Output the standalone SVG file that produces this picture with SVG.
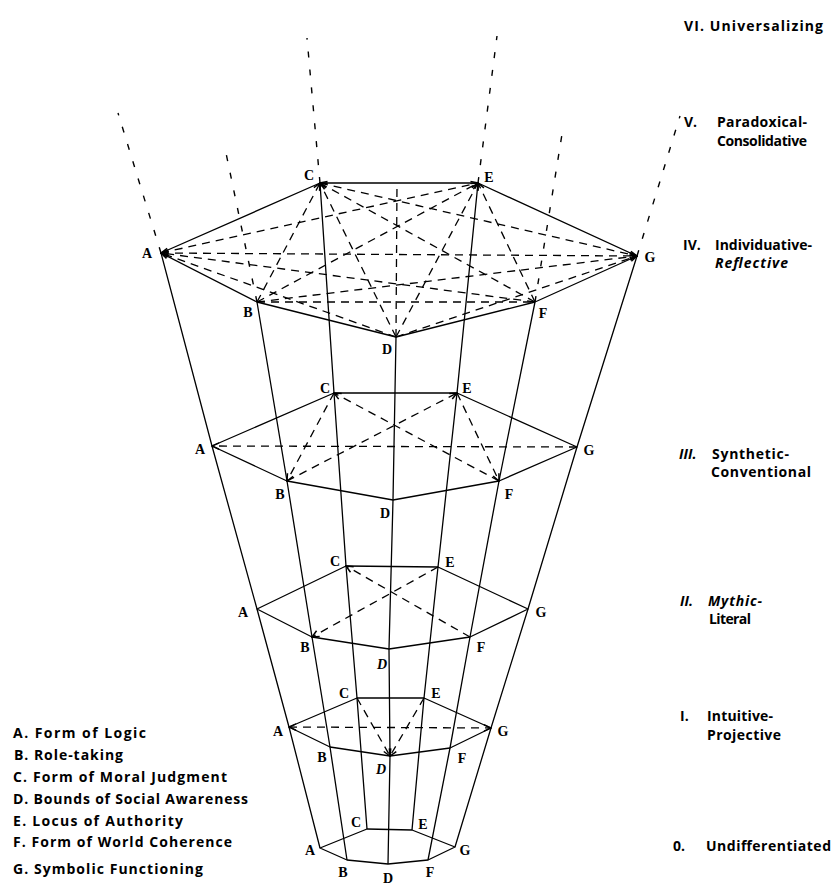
<svg xmlns="http://www.w3.org/2000/svg" width="834" height="885" viewBox="0 0 834 885">
<style>
.s{fill:none;stroke:#000;stroke-width:1.3;stroke-linejoin:round}
.d{fill:none;stroke:#000;stroke-width:1.3;stroke-dasharray:8 6}
.t{fill:none;stroke:#000;stroke-width:1.4;stroke-dasharray:6 12}
.v{font-family:"Liberation Serif","Times New Roman",serif;font-weight:bold;font-size:14px;text-anchor:middle;fill:#000}
.l{font-family:"Open Sans","Liberation Sans",sans-serif;font-weight:700;font-size:14px;fill:#000}
.i{font-style:italic}
</style>
<defs>
<marker id="arr" viewBox="-9 -5 10 10" refX="0" refY="0" markerWidth="10" markerHeight="10" markerUnits="userSpaceOnUse" orient="auto-start-reverse">
<path d="M-7,-3.2 L0,0 L-7,3.2" fill="none" stroke="#000" stroke-width="1.5"/>
</marker>
</defs>
<rect width="834" height="885" fill="#fff"/>

<g id="connectors">
<polyline class="s" points="320,848 289,727 257,609 212,446 161,253"/>
<polyline class="s" points="347,860 330,747 312,637 287,481 257,302"/>
<polyline class="s" points="367,829 357,698 346,566 334,393 320,183"/>
<polyline class="s" points="388,864 390,756 389,649 393,500 396,337"/>
<polyline class="s" points="412,830 424,698 438,567 457,393 478,183"/>
<polyline class="s" points="428,860 450,748 470,637 499,481 535,302"/>
<polyline class="s" points="455,847 491,728 528,609 577,447 637,256"/>
<polyline class="t" points="161,253 118,113"/>
<polyline class="t" points="257,302 226,153"/>
<polyline class="t" points="320,183 307,38"/>
<polyline class="d" points="396,337 397,183"/>
<polyline class="t" points="478,183 497,36"/>
<polyline class="t" points="535,302 563,128"/>
<polyline class="t" points="637,256 680,116"/>
<g marker-end="url(#arr)">
<line class="d" x1="396" y1="337" x2="161" y2="253"/>
<line class="d" x1="535" y1="302" x2="161" y2="253"/>
<line class="d" x1="257" y1="302" x2="320" y2="183"/>
<line class="d" x1="396" y1="337" x2="320" y2="183"/>
<line class="d" x1="535" y1="302" x2="320" y2="183"/>
<line class="d" x1="257" y1="302" x2="478" y2="183"/>
<line class="d" x1="396" y1="337" x2="478" y2="183"/>
<line class="d" x1="535" y1="302" x2="478" y2="183"/>
<line class="d" x1="257" y1="302" x2="637" y2="256"/>
<line class="d" x1="396" y1="337" x2="637" y2="256"/>
</g>
<g marker-start="url(#arr)" marker-end="url(#arr)">
<line class="d" x1="161" y1="253" x2="637" y2="256"/>
<line class="d" x1="161" y1="253" x2="478" y2="183"/>
<line class="d" x1="320" y1="183" x2="637" y2="256"/>
</g>
<line class="d" x1="257" y1="302" x2="535" y2="302"/>
<g marker-end="url(#arr)">
<line class="d" x1="577" y1="447" x2="212" y2="446"/>
<line class="d" x1="334" y1="393" x2="287" y2="481"/>
<line class="d" x1="457" y1="393" x2="499" y2="481"/>
<line class="d" x1="287" y1="481" x2="457" y2="393"/>
<line class="d" x1="499" y1="481" x2="334" y2="393"/>
</g>
<g marker-end="url(#arr)">
<line class="d" x1="438" y1="567" x2="312" y2="637"/>
<line class="d" x1="470" y1="637" x2="346" y2="566"/>
</g>
<line class="d" x1="289" y1="727" x2="491" y2="728" marker-start="url(#arr)" marker-end="url(#arr)"/>
<g marker-end="url(#arr)">
<line class="d" x1="357" y1="698" x2="390" y2="756"/>
<line class="d" x1="424" y1="698" x2="390" y2="756"/>
</g>
</g>

<g id="stage-IV">
<polygon class="s" points="161,253 320,183 478,183 637,256 535,302 396,337 257,302"/>
<text class="v" x="147" y="258">A</text>
<text class="v" x="248" y="317">B</text>
<text class="v" x="309" y="180">C</text>
<text class="v" x="387" y="354">D</text>
<text class="v" x="489" y="182">E</text>
<text class="v" x="543" y="318">F</text>
<text class="v" x="650" y="262">G</text>
</g>
<g id="stage-III">
<polygon class="s" points="212,446 334,393 457,393 577,447 499,481 393,500 287,481"/>
<text class="v" x="200" y="454">A</text>
<text class="v" x="280" y="499">B</text>
<text class="v" x="325" y="393">C</text>
<text class="v" x="385" y="518">D</text>
<text class="v" x="467" y="393">E</text>
<text class="v" x="509" y="499">F</text>
<text class="v" x="589" y="455">G</text>
</g>
<g id="stage-II">
<polygon class="s" points="257,609 346,566 438,567 528,609 470,637 389,649 312,637"/>
<text class="v" x="243" y="617">A</text>
<text class="v" x="305" y="652">B</text>
<text class="v" x="335" y="566">C</text>
<text class="v i" x="382" y="669">D</text>
<text class="v" x="450" y="567">E</text>
<text class="v" x="481" y="652">F</text>
<text class="v" x="541" y="617">G</text>
</g>
<g id="stage-I">
<polygon class="s" points="289,727 357,698 424,698 491,728 450,748 390,756 330,747"/>
<text class="v" x="278" y="736">A</text>
<text class="v" x="322" y="762">B</text>
<text class="v" x="344" y="698">C</text>
<text class="v i" x="381" y="774">D</text>
<text class="v" x="436" y="698">E</text>
<text class="v" x="462" y="763">F</text>
<text class="v" x="503" y="736">G</text>
</g>
<g id="stage-0">
<polygon class="s" points="320,848 367,829 412,830 455,847 428,860 388,864 347,860"/>
<text class="v" x="310" y="855">A</text>
<text class="v" x="343" y="877">B</text>
<text class="v" x="356" y="827">C</text>
<text class="v" x="388" y="883">D</text>
<text class="v" x="423" y="829">E</text>
<text class="v" x="430" y="877">F</text>
<text class="v" x="465" y="855">G</text>
</g>

<g id="stage-labels">
<text class="l" x="684" y="31" textLength="139">VI. Universalizing</text>
<text class="l" x="684" y="127">V.</text>
<text class="l" x="717" y="127" textLength="90">Paradoxical-</text>
<text class="l" x="717" y="146" textLength="90">Consolidative</text>
<text class="l" x="683" y="250">IV.</text>
<text class="l" x="715" y="250" textLength="97">Individuative-</text>
<text class="l i" x="715" y="268" textLength="73">Reflective</text>
<text class="l i" x="679" y="459">III.</text>
<text class="l" x="712" y="459" textLength="77">Synthetic-</text>
<text class="l" x="711" y="477" textLength="100">Conventional</text>
<text class="l i" x="680" y="606">II.</text>
<text class="l i" x="708" y="606" textLength="54">Mythic-</text>
<text class="l" x="709" y="624" textLength="42">Literal</text>
<text class="l" x="680" y="721">I.</text>
<text class="l" x="707" y="721" textLength="66">Intuitive-</text>
<text class="l" x="707" y="740" textLength="74">Projective</text>
<text class="l" x="673" y="851">0.</text>
<text class="l" x="706" y="851" textLength="125">Undifferentiated</text>
</g>

<g id="legend">
<text class="l" x="13" y="738" textLength="133">A. Form of Logic</text>
<text class="l" x="14" y="760" textLength="109">B. Role-taking</text>
<text class="l" x="13" y="782" textLength="214">C. Form of Moral Judgment</text>
<text class="l" x="13" y="804" textLength="235">D. Bounds of Social Awareness</text>
<text class="l" x="13" y="826" textLength="170">E. Locus of Authority</text>
<text class="l" x="13" y="847" textLength="219">F. Form of World Coherence</text>
<text class="l" x="13" y="874" textLength="190">G. Symbolic Functioning</text>
</g>
</svg>
